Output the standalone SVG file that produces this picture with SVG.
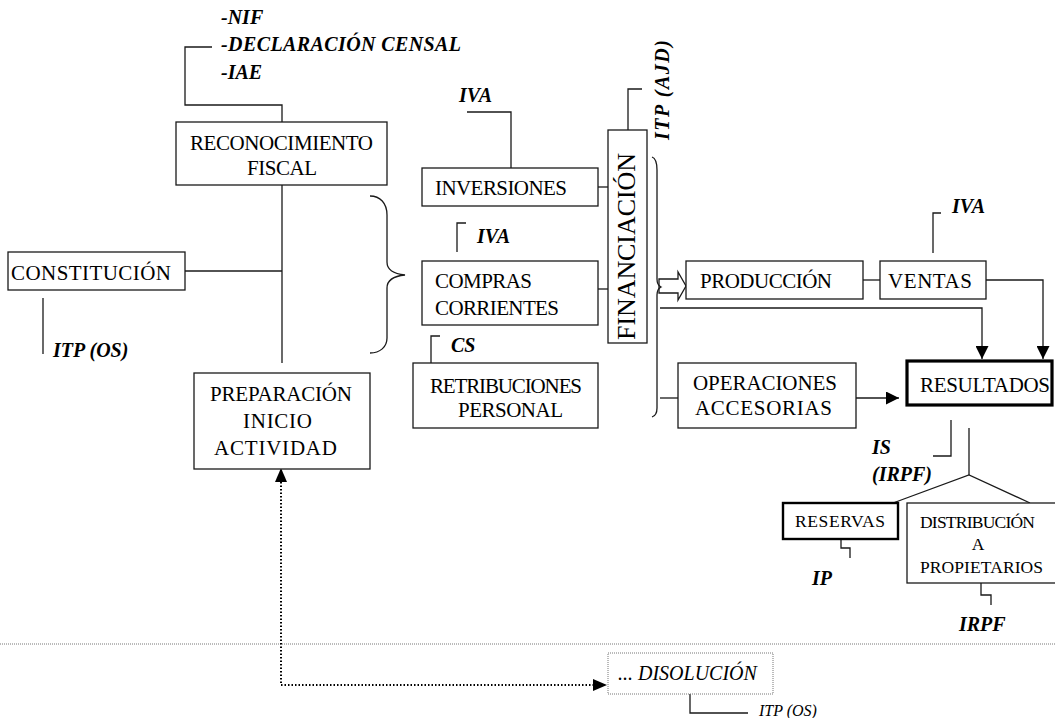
<svg xmlns="http://www.w3.org/2000/svg" width="1055" height="718" viewBox="0 0 1055 718">
<style>
.box{fill:#fff;stroke:#1a1a1a;stroke-width:1.3}
.thick{fill:#fff;stroke:#000;stroke-width:3.2}
.mid{fill:#fff;stroke:#000;stroke-width:2.4}
text{font-family:"Liberation Serif","Times New Roman",serif;fill:#000}
.t{font-size:21px}
.s{font-size:17.5px}
.c{text-anchor:middle}
.bi{font-size:20px;font-weight:bold;font-style:italic}
.it{font-style:italic}
.ln{fill:none;stroke:#1a1a1a;stroke-width:1.3}
.dot{fill:none;stroke:#000;stroke-width:2;stroke-dasharray:1.5 2}
</style>
<defs>
<marker id="ahb" viewBox="0 0 10 10" refX="10" refY="5" markerWidth="13" markerHeight="13" markerUnits="userSpaceOnUse" orient="auto">
<path d="M0,0 L10,5 L0,10 Z" fill="#000"/>
</marker>
</defs>

<g id="connectors">
<polyline class="ln" points="212,47 185,47 185,105 282,105 282,122"/>
<line class="ln" x1="282" y1="185" x2="282" y2="363"/>
<line class="ln" x1="185" y1="271" x2="282" y2="271" stroke-width="2.2"/>
<line class="ln" x1="43" y1="298" x2="43" y2="354"/>
<path class="ln" d="M370,196 C380,196 387,203 387,215 L387,262 C387,270 395,274 405,275 C395,276 387,280 387,288 L387,338 C387,347 380,353 370,353"/>
<polyline class="ln" points="467,112 511,112 511,168"/>
<polyline class="ln" points="466,223 457,223 457,252"/>
<polyline class="ln" points="440,336 431,336 431,363"/>
<line class="ln" x1="598" y1="187" x2="608" y2="187"/>
<line class="ln" x1="598" y1="289" x2="608" y2="289"/>
<polyline class="ln" points="628,130 628,89 642,89"/>
<path class="ln" d="M652,157 C655,158 657,162 657,170 L657,279 C657,284 659,286 661,287 C659,288 657,290 657,295 L657,408 C657,413 655,416 652,417"/>
<polygon class="ln" points="659,279 678,279 678,272 686,286 678,300 678,293 659,293"/>
<line class="ln" x1="863" y1="280" x2="880" y2="280"/>
<polyline class="ln" points="933,253 933,213 941,213"/>
<polyline class="ln" points="986,280 1043,280 1043,359" marker-end="url(#ahb)"/>
<polyline class="ln" points="660,308 982,308 982,359" marker-end="url(#ahb)"/>
<line class="ln" x1="660" y1="398" x2="678" y2="398"/>
<line class="ln" x1="856" y1="398" x2="899" y2="398" marker-end="url(#ahb)"/>
<polyline class="ln" points="933,456 951,456 951,420"/>
<line class="ln" x1="969" y1="428" x2="969" y2="475"/>
<polyline class="ln" points="893,503 969,475 1030,503"/>
<polyline class="ln" points="841,539 841,548 850,548 850,558"/>
<polyline class="ln" points="981,583 981,595 991,595 991,605"/>
<line x1="0" y1="644" x2="1055" y2="644" stroke="#777" stroke-width="1" stroke-dasharray="1 1"/>
<polyline class="dot" points="281,482 281,685 595,685"/>
<path d="M281,468 L287,482 L275,482 Z" fill="#000"/>
<path d="M607,685 L593,679 L593,691 Z" fill="#000"/>
<polyline class="ln" points="690,694 690,713 748,713"/>
</g>

<g id="labels">
<text class="bi" x="221" y="24">-NIF</text>
<text class="bi" x="221" y="51" textLength="240">-DECLARACIÓN CENSAL</text>
<text class="bi" x="221" y="79">-IAE</text>
<text class="bi" x="53" y="357">ITP (OS)</text>
<text class="bi" x="459" y="102">IVA</text>
<text class="bi" x="477" y="243">IVA</text>
<text class="bi" x="451" y="352">CS</text>
<text class="bi" transform="translate(669,140) rotate(-90)" textLength="100">ITP (AJD)</text>
<text class="bi" x="952" y="213">IVA</text>
<text class="bi" x="872" y="454">IS</text>
<text class="bi" x="872" y="481">(IRPF)</text>
<text class="bi" x="812" y="585">IP</text>
<text class="bi" x="959" y="631">IRPF</text>
<text class="it" x="759" y="716" style="font-size:16px">ITP (OS)</text>
</g>

<g id="n-reconocimiento">
<rect class="box" x="176" y="122" width="211" height="63"/>
<text class="t" x="190" y="150" textLength="183">RECONOCIMIENTO</text>
<text class="t" x="247" y="175" textLength="70">FISCAL</text>
</g>
<g id="n-constitucion">
<rect class="box" x="8" y="252" width="177" height="38"/>
<text class="t" x="11" y="280" textLength="160">CONSTITUCIÓN</text>
</g>
<g id="n-preparacion">
<rect class="box" x="194" y="373" width="176" height="96"/>
<text class="t" x="210" y="401" textLength="142">PREPARACIÓN</text>
<text class="t" x="243" y="428" textLength="69">INICIO</text>
<text class="t" x="214" y="455" textLength="123">ACTIVIDAD</text>
</g>
<g id="n-inversiones">
<rect class="box" x="422" y="168" width="176" height="38"/>
<text class="t" x="435" y="195" textLength="132">INVERSIONES</text>
</g>
<g id="n-compras">
<rect class="box" x="422" y="261" width="176" height="64"/>
<text class="t" x="435" y="288" textLength="97">COMPRAS</text>
<text class="t" x="435" y="315" textLength="124">CORRIENTES</text>
</g>
<g id="n-retribuciones">
<rect class="box" x="413" y="363" width="185" height="65"/>
<text class="t" x="430" y="393" textLength="152">RETRIBUCIONES</text>
<text class="t" x="458" y="417" textLength="105">PERSONAL</text>
</g>
<g id="n-financiacion">
<rect class="box" x="608" y="130" width="39" height="213"/>
<text style="font-size:26px" transform="translate(635,340) rotate(-90)" textLength="187">FINANCIACIÓN</text>
</g>
<g id="n-produccion">
<rect class="box" x="686" y="261" width="177" height="38"/>
<text class="t" x="700" y="288" textLength="132">PRODUCCIÓN</text>
</g>
<g id="n-ventas">
<rect class="box" x="880" y="261" width="106" height="38"/>
<text class="t" x="888" y="288" textLength="84">VENTAS</text>
</g>
<g id="n-operaciones">
<rect class="box" x="678" y="363" width="178" height="65"/>
<text class="t" x="693" y="390" textLength="144">OPERACIONES</text>
<text class="t" x="695" y="415" textLength="137">ACCESORIAS</text>
</g>
<g id="n-resultados">
<rect class="thick" x="907" y="361" width="145" height="44"/>
<text class="t" x="920" y="392" textLength="130">RESULTADOS</text>
</g>
<g id="n-reservas">
<rect class="mid" x="783" y="503" width="115" height="36"/>
<text class="s" x="795" y="527" textLength="90">RESERVAS</text>
</g>
<g id="n-distribucion">
<rect class="box" x="907" y="503" width="150" height="80"/>
<text class="s" x="920" y="528" textLength="115">DISTRIBUCIÓN</text>
<text class="s c" x="978" y="550">A</text>
<text class="s" x="920" y="573" textLength="123">PROPIETARIOS</text>
</g>
<g id="n-disolucion">
<rect x="608" y="653" width="165" height="41" fill="#fff" stroke="#777" stroke-width="1" stroke-dasharray="1 1"/>
<text class="it" style="font-size:20px" x="618" y="680">... DISOLUCIÓN</text>
</g>
</svg>
